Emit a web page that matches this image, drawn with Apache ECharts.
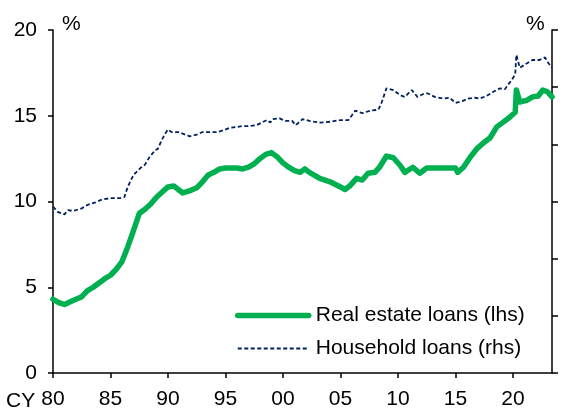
<!DOCTYPE html>
<html>
<head>
<meta charset="utf-8">
<script src="https://cdn.jsdelivr.net/npm/echarts@6/dist/echarts.min.js"></script>
<style>
  html, body { margin: 0; padding: 0; background: #fff; }
  #main { width: 569px; height: 412px; }
</style>
</head>
<body>
<div id="main"></div>
<script>
// Real estate loans (lhs), %
var reYears = [1980, 1980.5, 1981, 1981.5, 1982, 1982.5, 1983, 1983.5, 1984, 1984.5,
    1985, 1985.5, 1986, 1986.5, 1987, 1987.5, 1988, 1988.5, 1989, 1989.5,
    1990, 1990.5, 1991.3, 1992, 1992.5, 1993, 1993.5, 1994, 1994.5, 1995,
    1996, 1996.5, 1997, 1997.5, 1998, 1998.5, 1999, 1999.5, 2000, 2000.5,
    2001, 2001.5, 2001.9, 2002.3, 2003.2, 2004.1, 2005, 2005.4, 2005.8, 2006.4,
    2006.9, 2007.4, 2008, 2008.4, 2009, 2009.6, 2010.2, 2010.6, 2011.3, 2011.9,
    2012.5, 2013.2, 2013.9, 2014.5, 2015, 2015.2, 2015.7, 2016.3, 2016.9, 2017.4,
    2018, 2018.6, 2019.1, 2019.7, 2020.2, 2020.3, 2020.6, 2021.2, 2021.7, 2022.2,
    2022.6, 2023, 2023.4];
var reValues = [4.3, 4.1, 4.0, 4.15, 4.3, 4.45, 4.8, 5.0, 5.25, 5.5,
    5.7, 6.05, 6.5, 7.35, 8.3, 9.3, 9.55, 9.85, 10.25, 10.55,
    10.85, 10.9, 10.5, 10.65, 10.8, 11.15, 11.55, 11.7, 11.9, 11.95,
    11.95, 11.9, 12.0, 12.2, 12.5, 12.75, 12.85, 12.6, 12.25, 12.0,
    11.8, 11.7, 11.9, 11.7, 11.35, 11.15, 10.85, 10.7, 10.9, 11.35,
    11.25, 11.65, 11.7, 12.0, 12.65, 12.55, 12.1, 11.7, 12.0, 11.65,
    11.95, 11.95, 11.95, 11.95, 11.95, 11.7, 12.0, 12.6, 13.1, 13.4,
    13.7, 14.35, 14.6, 14.9, 15.2, 16.5, 15.8, 15.9, 16.1, 16.15,
    16.5, 16.4, 16.1];

// Household loans (rhs), plotted in left-axis units
var hhYears = [1980, 1980.4, 1981, 1981.3, 1981.7, 1982, 1982.5, 1983, 1983.7, 1984.2,
    1985, 1985.8, 1986.2, 1986.5, 1987, 1987.6, 1988, 1988.4, 1988.9, 1989.1,
    1989.4, 1989.7, 1990, 1990.3, 1990.9, 1991.9, 1992.5, 1993, 1993.7, 1994.3,
    1994.8, 1995.4, 1996, 1996.5, 1997.1, 1997.7, 1998.3, 1998.6, 1998.9, 1999.1,
    1999.7, 2000.2, 2000.8, 2001.1, 2001.7, 2002.3, 2003.2, 2004.1, 2005, 2005.7,
    2006.3, 2006.9, 2007.6, 2008.3, 2008.6, 2009, 2009.6, 2010.2, 2010.6, 2011.2,
    2011.7, 2012.3, 2012.6, 2013.2, 2013.9, 2014.5, 2015, 2015.6, 2016.1, 2016.7,
    2017.1, 2017.7, 2018.3, 2018.9, 2019.3, 2019.9, 2020.2, 2020.3, 2020.6, 2021.2,
    2021.7, 2022.3, 2022.8, 2023, 2023.4];
var hhValues = [9.7, 9.4, 9.25, 9.5, 9.45, 9.5, 9.6, 9.8, 9.95, 10.1,
    10.2, 10.2, 10.25, 10.85, 11.55, 11.95, 12.15, 12.6, 13.0, 13.05,
    13.5, 13.9, 14.2, 14.05, 14.05, 13.8, 13.9, 14.05, 14.05, 14.05,
    14.15, 14.3, 14.35, 14.4, 14.4, 14.45, 14.65, 14.75, 14.6, 14.8,
    14.85, 14.7, 14.7, 14.45, 14.8, 14.7, 14.6, 14.65, 14.75, 14.75,
    15.3, 15.15, 15.3, 15.35, 15.8, 16.6, 16.5, 16.2, 16.1, 16.5,
    16.1, 16.3, 16.3, 16.1, 16.0, 16.05, 15.75, 15.85, 16.0, 16.05,
    16.0, 16.15, 16.4, 16.6, 16.55, 17.1, 17.4, 18.55, 17.8, 18.05,
    18.25, 18.25, 18.4, 18.15, 17.8];

var seriesNames = ['Real estate loans (lhs)', 'Household loans (rhs)'];
var leftTicks = { min: 0, max: 20, step: 5 };
var rightTicks = { min: 0, max: 6, step: 1 };
var xRange = { min: 1980, max: 2023.4, step: 5 };

function pairs(xs, ys) {
    var out = [];
    for (var i = 0; i < xs.length; i++) out.push([xs[i], ys[i]]);
    return out;
}

var FONT = 'Liberation Sans, Arial, sans-serif';
var FS = 21;
var GREEN = '#00b050';
var NAVY = '#002060';

var chart = echarts.init(document.getElementById('main'));

var option = {
    animation: false,
    backgroundColor: '#fff',
    textStyle: { fontFamily: FONT, color: '#000' },
    grid: { left: 53, right: 17, top: 30, bottom: 39 },
    legend: {
        orient: 'vertical',
        left: 235,
        top: 305,
        padding: 0,
        itemWidth: 71,
        itemHeight: 20,
        itemGap: 12,
        itemStyle: { opacity: 0 },
        textStyle: { fontFamily: FONT, fontSize: FS, color: '#000', padding: [0, 0, 0, 2] },
        data: [
            { name: seriesNames[0], lineStyle: { width: 5.5, cap: 'round' } },
            { name: seriesNames[1], lineStyle: { width: 1.8 } }
        ]
    },
    xAxis: {
        type: 'value',
        min: xRange.min,
        max: xRange.max,
        interval: xRange.step,
        axisLine: { lineStyle: { color: '#000', width: 1.5 } },
        axisTick: { show: true, length: 5, lineStyle: { color: '#000', width: 1.5 } },
        axisLabel: {
            fontSize: FS, color: '#000', fontFamily: FONT, margin: 16,
            showMaxLabel: false,
            formatter: function (v) {
                if (v % 5 !== 0) return '';
                var s = String(v % 100);
                return s.length < 2 ? '0' + s : s;
            }
        },
        splitLine: { show: false }
    },
    yAxis: [
        {
            type: 'value',
            position: 'left',
            min: leftTicks.min,
            max: leftTicks.max,
            interval: leftTicks.step,
            axisLine: { show: true, lineStyle: { color: '#000', width: 1.5 } },
            axisTick: { show: true, length: 5, lineStyle: { color: '#000', width: 1.5 } },
            axisLabel: { fontSize: FS, color: '#000', fontFamily: FONT, margin: 16 },
            splitLine: { show: false }
        },
        {
            type: 'value',
            position: 'right',
            min: rightTicks.min,
            max: rightTicks.max,
            interval: rightTicks.step,
            axisLine: { show: true, lineStyle: { color: '#000', width: 1.5 } },
            axisTick: { show: true, length: 6, lineStyle: { color: '#000', width: 1.5 } },
            axisLabel: { show: false },
            splitLine: { show: false }
        }
    ],
    graphic: [
        { type: 'text', left: 62, top: 14, style: { text: '%', fontSize: FS, fontFamily: FONT, fill: '#000' } },
        { type: 'text', left: 526, top: 14, style: { text: '%', fontSize: FS, fontFamily: FONT, fill: '#000' } },
        { type: 'text', left: 6, top: 391, style: { text: 'CY', fontSize: FS, fontFamily: FONT, fill: '#000' } }
    ],
    series: [
        {
            name: seriesNames[1],
            type: 'line',
            yAxisIndex: 0,
            symbol: 'none',
            lineStyle: { color: NAVY, width: 1.8, type: [4, 2.5] },
            itemStyle: { color: NAVY },
            data: pairs(hhYears, hhValues)
        },
        {
            name: seriesNames[0],
            type: 'line',
            yAxisIndex: 0,
            symbol: 'none',
            lineStyle: { color: GREEN, width: 5.5, cap: 'round', join: 'round' },
            itemStyle: { color: GREEN },
            data: pairs(reYears, reValues)
        }
    ]
};

chart.setOption(option);
</script>
</body>
</html>
